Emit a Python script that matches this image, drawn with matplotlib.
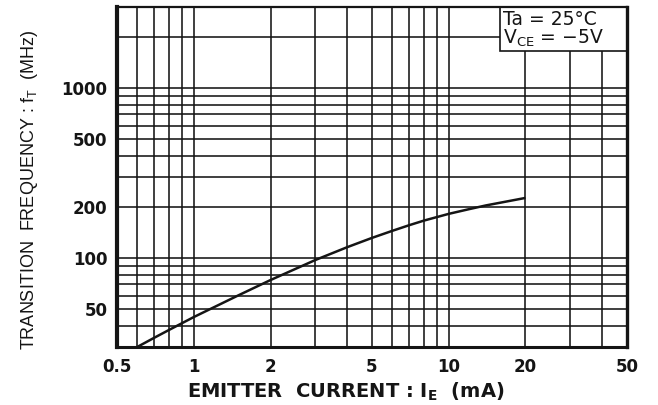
import matplotlib
matplotlib.use("Agg")
import matplotlib.pyplot as plt
from matplotlib.patches import Rectangle
from matplotlib.ticker import NullFormatter

# emitter current (mA) vs transition frequency (MHz)
ie_ma = [0.6, 0.7, 0.8, 1.0, 1.5, 2.0, 3.0, 4.0, 5.0, 6.0, 7.0, 8.0, 10.0, 12.0, 14.0, 20.0]
ft_mhz = [30, 34.0, 37.8, 45.0, 60.5, 74.3, 97.5, 116, 131.5, 144.6, 156.2, 166.3, 182.1, 194, 204.2, 226]

x_major = [0.5, 1, 2, 5, 10, 20, 50]
x_labels = ["0.5", "1", "2", "5", "10", "20", "50"]
x_minor = [0.6, 0.7, 0.8, 0.9, 3, 4, 6, 7, 8, 9, 30, 40]

y_major = [50, 100, 200, 500, 1000]
y_labels = ["50", "100", "200", "500", "1000"]
y_minor = [40, 60, 70, 80, 90, 300, 400, 600, 700, 800, 900, 2000]

plt.rcParams['font.family'] = ['DejaVu Sans']
plt.rcParams['font.weight'] = 'bold'
ink = '#151515'

fig = plt.figure(figsize=(6.58, 4.05), dpi=100)
ax = fig.add_axes([0.1778, 0.1432, 0.775, 0.8395])

ax.set_xscale('log')
ax.set_yscale('log')
ax.set_xlim(0.5, 50)
ax.set_ylim(30, 3000)

ax.set_xticks(x_major, x_labels)
ax.set_xticks(x_minor, minor=True)
ax.set_yticks(y_major, y_labels)
ax.set_yticks(y_minor, minor=True)
ax.xaxis.set_minor_formatter(NullFormatter())
ax.yaxis.set_minor_formatter(NullFormatter())
ax.tick_params(which='both', length=0, labelsize=12, colors=ink)
ax.tick_params(axis='x', pad=8)
ax.tick_params(axis='y', pad=7)

ax.set_axisbelow(True)
ax.grid(True, which='both', color=ink, lw=1.15)

for side, w in [('left', 3.0), ('bottom', 2.2), ('right', 2.4), ('top', 1.6)]:
    ax.spines[side].set_linewidth(w)
    ax.spines[side].set_color(ink)

ax.plot(ie_ma, ft_mhz, color=ink, lw=1.8, zorder=3, solid_capstyle='butt')

# condition box in the upper right corner
ax.add_patch(Rectangle((0.751, 0.8706), 0.249, 0.1294, transform=ax.transAxes,
                       facecolor='white', edgecolor=ink, lw=1.2, zorder=2.2))
ax.text(0.757, 0.962, 'Ta = 25°C', transform=ax.transAxes, fontsize=13.5,
        fontweight='normal', ha='left', va='center', color=ink, zorder=4)
ax.text(0.757, 0.908, r'V$_\mathregular{CE}$ = −5V', transform=ax.transAxes, fontsize=13.5,
        fontweight='normal', ha='left', va='center', color=ink, zorder=4)

fig.text(30 / 658, 1 - 190 / 405, r'TRANSITION  FREQUENCY : f$_\mathregular{T}$  (MHz)',
         rotation=90, ha='center', va='center', fontsize=13, fontweight='normal',
         family=['Liberation Sans', 'DejaVu Sans'], color=ink)
fig.text(346 / 658, 1 - 392 / 405, r'EMITTER  CURRENT : I$_\mathregular{E}$  (mA)',
         ha='center', va='center', fontsize=14, color=ink)

fig.savefig('out.png', dpi=100)
